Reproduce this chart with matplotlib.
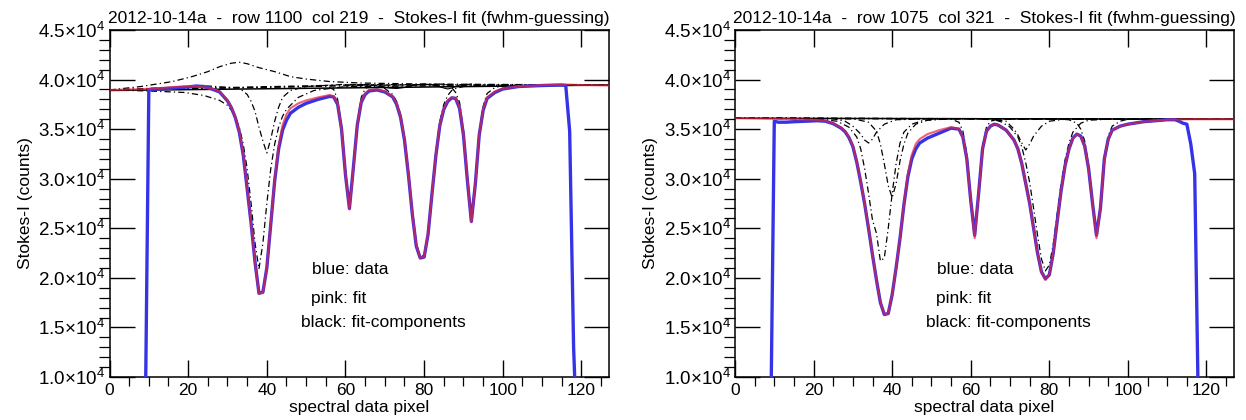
import matplotlib
matplotlib.use('Agg')
import matplotlib.pyplot as plt
import numpy as np

plt.rcParams['font.family'] = ['Liberation Sans', 'DejaVu Sans']
plt.rcParams['mathtext.fontset'] = 'custom'
plt.rcParams['mathtext.rm'] = 'Liberation Sans'
plt.rcParams['mathtext.it'] = 'Liberation Sans:italic'

# ---------------- left panel: row 1100 col 219 ----------------
L_title = '2012-10-14a  -  row 1100  col 219  -  Stokes-I fit (fwhm-guessing)'

L_cont_x = [0, 127]
L_cont_y = [38900, 39450]

L_fit_x = [0, 10, 16, 22, 26, 28, 30, 31, 32, 33, 34, 35, 36, 37, 38, 39, 40, 41, 42, 43, 44, 45, 46, 48, 50,
           53, 56, 57, 58, 59, 60, 61, 62, 63, 64, 65, 66, 68, 70, 72, 73, 74, 75, 76, 77, 78, 79, 80, 81, 82,
           83, 84, 85, 86, 87, 88, 89, 90, 91, 92, 93, 94, 95, 96, 98, 100, 104, 110, 116, 120, 127]
L_fit_y = [38950, 39050, 39250, 39350, 39100, 38800, 37900, 37200, 36200, 34800, 32500, 29000, 25500, 21500,
           18400, 18500, 21000, 25500, 30000, 33300, 35400, 36500, 37100, 37600, 37900,
           38200, 38450, 38300, 37600, 35000, 30500, 26900, 31000, 35500, 37800, 38600, 38950, 39000, 38800,
           38300, 37600, 36300, 34000, 30500, 26500, 23300, 22000, 22200, 24500, 28500,
           32500, 35500, 37100, 37900, 38200, 38150, 37200, 34500, 30000, 25600, 29500, 34500, 37000, 38200,
           38800, 39100, 39300, 39450, 39500, 39450, 39400]

L_data_x = [9, 10, 12, 15, 18, 20, 22, 24, 26, 28, 30, 31, 32, 33, 34, 35, 36, 37, 38, 39, 40, 41, 42, 43, 44,
            45, 46, 48, 50, 53, 56, 57, 58, 59, 60, 61, 62, 63, 64, 65, 66, 68, 70, 72, 73, 74, 75, 76, 77, 78,
            79, 80, 81, 82, 83, 84, 85, 86, 87, 88, 89, 90, 91, 92, 93, 94, 95, 96, 98, 100, 104, 110, 115,
            116, 117, 118, 119]
L_data_y = [2000, 39000, 39050, 39100, 39200, 39250, 39350, 39300, 39050, 38750, 37850, 37150, 36150, 34700,
            32400, 29000, 25500, 21600, 18450, 18550, 21000, 25400, 29800, 33000, 34900,
            35900, 36600, 37200, 37600, 38000, 38300, 38250, 37500, 35000, 30400, 27000, 31100, 35400, 37700,
            38500, 38850, 38950, 38750, 38250, 37500, 36200, 33900, 30400, 26400, 23200,
            22000, 22100, 24400, 28500, 32400, 35400, 37000, 37800, 38150, 38100, 37100, 34400, 29800, 25700,
            29400, 34400, 36900, 38100, 38700, 39050, 39300, 39400, 39450,
            39400, 34800, 13000, 2000]

# fit components (dash-dot)
L_compA_x = [0, 10, 19, 24, 28, 30, 31, 32, 33, 34, 35, 36, 37, 38, 39, 40, 41, 42, 43, 44, 45, 48, 52, 60, 127]
L_compA_y = [38950, 38850, 38700, 38400, 37900, 37400, 36900, 36200, 35200, 33500, 31000, 27500, 23500,
             20900, 23500, 27500, 31000, 33500, 35200, 36300, 37000, 38200, 38900, 39300, 39450]
L_compB_x = [0, 25, 33, 35, 36, 37, 38, 39, 40, 41, 42, 43, 44, 46, 50, 59, 127]
L_compB_y = [38950, 39350, 39150, 38500, 37800, 36800, 35200, 33800, 32600, 34000, 35800, 37200, 38200,
             38900, 39300, 39500, 39450]
L_compE_x = [0, 8, 16, 21, 25, 28, 31, 33, 35, 38, 42, 46, 50, 56, 64, 80, 127]
L_compE_y = [38950, 39300, 39800, 40300, 40800, 41300, 41650, 41750, 41600, 41200, 40800, 40300, 40050,
             39800, 39650, 39550, 39450]
L_comp2_x = [0, 50, 55, 57, 58, 59, 60, 61, 62, 63, 64, 65, 67, 127]
L_comp2_y = [38950, 39300, 39350, 39000, 38000, 35300, 30800, 27000, 31200, 35600, 38200, 39100, 39450, 39450]
L_comp3_x = [0, 60, 66, 68, 70, 72, 73, 74, 75, 76, 77, 78, 79, 80, 81, 82, 83, 84, 85, 86, 87, 88, 90, 95, 127]
L_comp3_y = [38950, 39450, 39500, 39400, 39100, 38500, 37800, 36500, 34200, 30700, 26700, 23500, 22100,
             22300, 24600, 28600, 32700, 35800, 37500, 38400, 38900, 39100, 39300, 39400, 39450]
L_comp4_x = [0, 80, 85, 87, 88, 89, 90, 91, 92, 93, 94, 95, 96, 98, 100, 127]
L_comp4_y = [38950, 39500, 39550, 39200, 38700, 37700, 34900, 30300, 25800, 29700, 34700, 37300, 38600,
             39200, 39400, 39450]
# small components drawn near the continuum
L_small1_x = [60, 66, 69, 71, 73, 75, 77, 80]
L_small1_y = [39450, 39450, 39300, 39150, 39100, 39200, 39400, 39550]
L_small2_x = [80, 83, 85, 86, 87, 89, 92]
L_small2_y = [39550, 39400, 39150, 39050, 39150, 39450, 39550]

# ---------------- right panel: row 1075 col 321 ----------------
R_title = '2012-10-14a  -  row 1075  col 321  -  Stokes-I fit (fwhm-guessing)'

R_cont_x = [0, 127]
R_cont_y = [36100, 36000]

R_fit_x = [0, 10, 15, 20, 23, 25, 27, 28, 29, 30, 31, 32, 33, 34, 35, 36, 37, 38, 39, 40, 41, 42, 43, 44, 45,
           46, 47, 49, 52, 55, 57, 58, 59, 60, 61, 62, 63, 64, 65, 66, 67, 69, 71, 72, 73, 74, 75, 76, 77, 78,
           79, 80, 81, 82, 83, 84, 85, 86, 87, 88, 89, 90, 91, 92, 93, 94, 95, 96, 98, 100, 104, 110, 116, 127]
R_fit_y = [36100, 36050, 36000, 35950, 35850, 35600, 35150, 34800, 34200, 33300, 31700, 29700, 27500, 25000,
           22300, 19800, 17500, 16300, 16400, 18300, 21000, 24000, 27500, 30500, 32400,
           33500, 34000, 34500, 34900, 35200, 35000, 34200, 32000, 27800, 24000, 28500, 33000, 34800, 35300,
           35500, 35400, 34900, 33900, 33000, 31500, 29500, 27500, 25000, 22500, 20600,
           19800, 20300, 22500, 25700, 28800, 31300, 33000, 34100, 34500, 34300, 33300, 31000, 27500, 24000,
           27000, 32000, 34000, 34900, 35300, 35500, 35750, 35950, 36000, 36000]

R_data_x = [9, 10, 11, 13, 15, 18, 21, 23, 25, 27, 28, 29, 30, 31, 32, 33, 34, 35, 36, 37, 38, 39, 40, 41, 42,
            43, 44, 45, 46, 47, 49, 52, 55, 57, 58, 59, 60, 61, 62, 63, 64, 65, 66, 67, 69, 71, 72, 73, 74,
            75, 76, 77, 78, 79, 80, 81, 82, 83, 84, 85, 86, 87, 88, 89, 90, 91, 92, 93, 94, 95, 96, 98, 100,
            104, 110, 112, 113, 114, 115, 116, 117, 118]
R_data_y = [2000, 35800, 35700, 35700, 35750, 35800, 35850, 35800, 35550, 35100, 34750, 34150, 33250, 31650,
            29650, 27450, 24950, 22300, 19800, 17500, 16300, 16400, 18300, 21000, 24000,
            27400, 30200, 32000, 33000, 33600, 34100, 34600, 35100, 35000, 34200, 32000, 27800, 24300, 28500,
            33000, 34800, 35300, 35500, 35400, 34900, 33900, 33000, 31500, 29500,
            27500, 25000, 22500, 20600, 19900, 20300, 22500, 25700, 28800, 31300, 33000, 34100, 34500, 34300,
            33300, 31000, 27500, 24300, 27000, 32000, 34000, 34900, 35300, 35500,
            35750, 35950, 35950, 35800, 35600, 35500, 33500, 30500, 5000]

R_comp1_x = [0, 20, 26, 29, 31, 32, 33, 34, 35, 36, 37, 38, 39, 40, 41, 42, 43, 45, 48, 55, 127]
R_comp1_y = [36100, 36050, 35800, 35200, 34200, 33000, 31000, 28500, 25800, 24500, 21700, 22000, 25000,
             28500, 31500, 33600, 34700, 35500, 35900, 36050, 36000]
R_comp2_x = [0, 30, 34, 36, 37, 38, 39, 40, 41, 42, 43, 44, 46, 49, 55, 127]
R_comp2_y = [36100, 36050, 35700, 34800, 33500, 31500, 29300, 28100, 29500, 31800, 33500, 34600, 35500,
             35900, 36050, 36000]
R_comp3_x = [0, 25, 28, 30, 32, 33, 34, 35, 36, 38, 41, 50, 127]
R_comp3_y = [36100, 36050, 35800, 35300, 34500, 33900, 33600, 34000, 34700, 35500, 35950, 36050, 36000]
R_comp4_x = [0, 50, 55, 57, 58, 59, 60, 61, 62, 63, 64, 65, 67, 127]
R_comp4_y = [36100, 36050, 36000, 35700, 34800, 32500, 28200, 24400, 28900, 33300, 35200, 35800, 36000, 36000]
R_comp5_x = [0, 60, 66, 68, 70, 72, 73, 74, 75, 76, 77, 78, 79, 80, 81, 82, 83, 84, 85, 86, 88, 90, 95, 127]
R_comp5_y = [36100, 36050, 35950, 35700, 35200, 34200, 33200, 31600, 29600, 27000, 24300, 21900, 20700,
             21300, 23400, 26500, 29500, 31900, 33600, 34700, 35600, 35900, 36000, 36000]
R_comp6_x = [0, 62, 66, 69, 71, 72, 73, 74, 75, 76, 78, 80, 84, 127]
R_comp6_y = [36100, 36050, 35950, 35800, 35000, 34400, 33600, 32900, 33500, 34300, 35300, 35800, 36000, 36000]
R_comp7_x = [0, 80, 85, 87, 88, 89, 90, 91, 92, 93, 94, 95, 96, 98, 100, 127]
R_comp7_y = [36100, 36050, 35950, 35600, 35000, 33800, 31300, 27700, 24300, 27300, 32200, 34300, 35300,
             35800, 36000, 36000]

notes = ['blue: data', 'pink: fit', 'black: fit-components']
note_x = [51.5, 51.2, 48.7]
note_y = [20800, 17900, 15450]

yticks = [10000, 15000, 20000, 25000, 30000, 35000, 40000, 45000]
ytick_labels = ['%.1f\u00d710$^{4}$' % (v / 1e4) for v in yticks]

FS = 12.5
DASHDOT = (0, (5, 2.5, 1, 2.5))


def panel(ax, title, cont, data, fit, comps, smalls):
    ax.plot(cont[0], cont[1], color='black', lw=1.1, zorder=2)
    for cx, cy in comps:
        ax.plot(cx, cy, color='black', lw=0.9, linestyle=DASHDOT, zorder=2)
    for sx, sy in smalls:
        ax.plot(sx, sy, color='black', lw=0.8, zorder=2)
    ax.plot(data[0], data[1], color='#3434e6', lw=2.4, zorder=3)
    ax.plot(fit[0], fit[1], color='#e8203e', lw=1.5, alpha=0.7, zorder=4)

    for t, x, y in zip(notes, note_x, note_y):
        ax.text(x, y, t, fontsize=FS, va='center', ha='left')

    ax.set_xlim(0, 127)
    ax.set_ylim(10000, 45000)
    ax.set_xticks([0, 20, 40, 60, 80, 100, 120])
    ax.set_xticks(np.arange(0, 128, 5), minor=True)
    ax.set_yticks(yticks)
    ax.set_yticklabels(ytick_labels)
    ax.set_yticks(np.arange(10000, 45001, 1000), minor=True)
    ax.tick_params(direction='in', top=True, right=True, labelsize=FS, width=1.0, pad=4)
    ax.tick_params(axis='y', which='major', labelsize=13.5, pad=3)
    ax.tick_params(axis='x', which='major', length=12.3)
    ax.tick_params(axis='x', which='minor', length=6.5, width=0.9)
    ax.tick_params(axis='y', which='major', length=18)
    ax.tick_params(axis='y', which='minor', length=8, width=0.9)
    for s in ax.spines.values():
        s.set_linewidth(1.1)
    ax.set_xlabel('spectral data pixel', fontsize=FS, labelpad=2)
    ax.set_ylabel('Stokes-I (counts)', fontsize=FS, labelpad=4)
    ax.set_title(title, fontsize=FS, pad=5)


fig = plt.figure(figsize=(12.46, 4.2), dpi=100)
ax1 = fig.add_axes([109.5 / 1246, 43 / 420, 499.5 / 1246, 347 / 420])
ax2 = fig.add_axes([735 / 1246, 43 / 420, 499 / 1246, 347 / 420])

panel(ax1, L_title, (L_cont_x, L_cont_y), (L_data_x, L_data_y), (L_fit_x, L_fit_y),
      [(L_compE_x, L_compE_y), (L_compA_x, L_compA_y), (L_compB_x, L_compB_y),
       (L_comp2_x, L_comp2_y), (L_comp3_x, L_comp3_y), (L_comp4_x, L_comp4_y)],
      [(L_small1_x, L_small1_y), (L_small2_x, L_small2_y)])
panel(ax2, R_title, (R_cont_x, R_cont_y), (R_data_x, R_data_y), (R_fit_x, R_fit_y),
      [(R_comp1_x, R_comp1_y), (R_comp2_x, R_comp2_y), (R_comp3_x, R_comp3_y), (R_comp4_x, R_comp4_y),
       (R_comp5_x, R_comp5_y), (R_comp6_x, R_comp6_y), (R_comp7_x, R_comp7_y)],
      [])

fig.savefig('out.png', dpi=100)
